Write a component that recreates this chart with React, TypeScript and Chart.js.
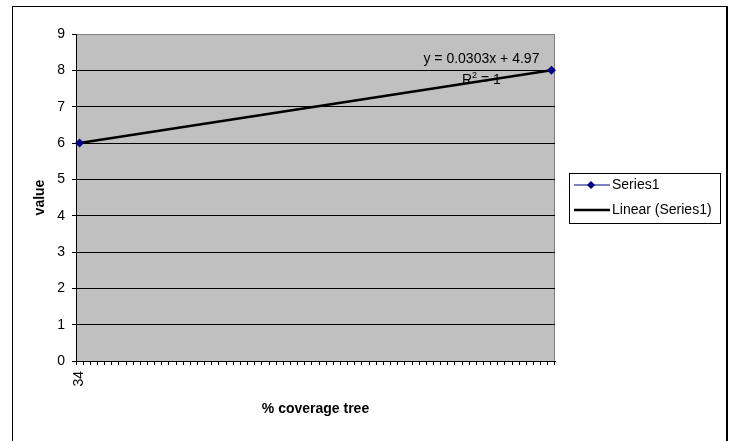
import React, { useEffect, useRef } from "react";
import { Chart, registerables } from "chart.js";

Chart.register(...registerables);

// ---- data ----
const xFirst = 34;
const xLast = 100;
const categories: string[] = Array.from({ length: xLast - xFirst + 1 }, (_, i) => String(xFirst + i));
const seriesX = [34, 100];
const seriesY = [6, 8];
const trendSlope = 0.0303;
const trendIntercept = 4.97;
const trendR2 = 1;
const yTicks = [0, 1, 2, 3, 4, 5, 6, 7, 8, 9];

const FONT = "Arial, 'Liberation Sans', sans-serif";

const seriesPoints = seriesX.map((x, i) => ({ x: String(x), y: seriesY[i] }));
const trendPoints = [seriesX[0], seriesX[seriesX.length - 1]].map((x) => ({
  x: String(x),
  y: trendSlope * x + trendIntercept,
}));

const framePlugin = {
  id: "framePlugin",
  beforeDraw(chart: any) {
    const { ctx, chartArea: a } = chart;
    ctx.save();
    ctx.fillStyle = "#ffffff";
    ctx.fillRect(0, 0, chart.width, chart.height);
    ctx.fillStyle = "#C0C0C0";
    ctx.fillRect(a.left, a.top, a.right - a.left, a.bottom - a.top);
    ctx.strokeStyle = "#808080";
    ctx.lineWidth = 1;
    ctx.beginPath();
    ctx.moveTo(Math.round(a.right) - 0.5, a.top);
    ctx.lineTo(Math.round(a.right) - 0.5, a.bottom);
    ctx.stroke();
    ctx.restore();
  },
  afterDraw(chart: any) {
    const { ctx } = chart;
    ctx.save();
    // outer chart frame
    ctx.strokeStyle = "#000";
    ctx.lineWidth = 1;
    ctx.strokeRect(12.5, 6.5, 715, 470);
    ctx.beginPath();
    ctx.moveTo(726.5, 6);
    ctx.lineTo(726.5, 441);
    ctx.stroke();

    // trendline label
    const xs = chart.scales.x;
    const ys = chart.scales.y;
    const px = xs.getPixelForValue(categories.indexOf(String(seriesX[seriesX.length - 1])));
    const py = ys.getPixelForValue(seriesY[seriesY.length - 1]);
    ctx.fillStyle = "#000";
    ctx.font = `14px ${FONT}`;
    ctx.textAlign = "center";
    ctx.textBaseline = "middle";
    ctx.fillText(`y = ${trendSlope}x + ${trendIntercept}`, px - 70, py - 11);
    // R² = 1
    const cx = px - 70;
    const cy = py + 10;
    const r = "R";
    const rest = ` = ${trendR2}`;
    ctx.font = `14px ${FONT}`;
    const wR = ctx.measureText(r).width;
    const wRest = ctx.measureText(rest).width;
    ctx.font = `9px ${FONT}`;
    const w2 = ctx.measureText("2").width;
    const total = wR + w2 + wRest;
    let sx = cx - total / 2;
    ctx.textAlign = "left";
    ctx.font = `14px ${FONT}`;
    ctx.fillText(r, sx, cy);
    sx += wR;
    ctx.font = `9px ${FONT}`;
    ctx.fillText("2", sx, cy - 5);
    sx += w2;
    ctx.font = `14px ${FONT}`;
    ctx.fillText(rest, sx, cy);

    // legend
    const lx = 569.5;
    const ly = 173.5;
    ctx.strokeStyle = "#000";
    ctx.lineWidth = 1;
    ctx.strokeRect(lx, ly, 151, 50);
    const entries = chart.data.datasets.filter((d: any) => d.legend);
    entries.forEach((d: any, i: number) => {
      const yy = 185 + i * 25;
      ctx.strokeStyle = d.borderColor;
      ctx.lineWidth = d.borderWidth;
      ctx.beginPath();
      ctx.moveTo(574, yy);
      ctx.lineTo(610, yy);
      ctx.stroke();
      if (d.legendMarker) {
        ctx.fillStyle = d.borderColor;
        ctx.beginPath();
        ctx.moveTo(591, yy - 4);
        ctx.lineTo(595, yy);
        ctx.lineTo(591, yy + 4);
        ctx.lineTo(587, yy);
        ctx.closePath();
        ctx.fill();
      }
      ctx.fillStyle = "#000";
      ctx.font = `14px ${FONT}`;
      ctx.textAlign = "left";
      ctx.textBaseline = "middle";
      ctx.fillText(d.label, 612, yy);
    });
    ctx.restore();
  },
};

export default function App() {
  const ref = useRef<HTMLCanvasElement | null>(null);
  useEffect(() => {
    if (!ref.current) return;
    const chart = new Chart(ref.current, {
      type: "line",
      data: {
        labels: categories,
        datasets: [
          {
            label: "Series1",
            data: seriesPoints,
            borderColor: "#000080",
            backgroundColor: "#000080",
            borderWidth: 1,
            pointRadius: 0,
            spanGaps: true,
            order: 2,
            clip: false,
            legend: true,
            legendMarker: true,
          } as any,
          {
            label: "Linear (Series1)",
            data: trendPoints,
            borderColor: "#000000",
            borderWidth: 2.5,
            pointRadius: 0,
            spanGaps: true,
            order: 1,
            clip: false,
            legend: true,
          } as any,
          {
            label: "Series1 markers",
            data: seriesPoints,
            showLine: false,
            borderColor: "#000080",
            backgroundColor: "#000080",
            pointStyle: "rectRot",
            pointRadius: 4.5,
            pointBorderWidth: 0,
            order: 0,
            clip: false,
          } as any,
        ],
      },
      options: {
        responsive: false,
        animation: false,
        devicePixelRatio: 1,
        layout: { padding: { left: 0, top: 34, right: 182, bottom: 23 } },
        plugins: {
          legend: { display: false },
          tooltip: { enabled: false },
        },
        scales: {
          x: {
            type: "category",
            offset: true,
            grid: {
              offset: true,
              drawOnChartArea: false,
              drawTicks: true,
              tickLength: 4,
              tickColor: "#000",
            },
            border: { color: "#000", width: 1 },
            ticks: {
              autoSkip: false,
              maxRotation: 90,
              minRotation: 90,
              padding: 6,
              color: "#000",
              font: { family: FONT, size: 14 },
              callback: (_v: any, i: number) => (i === 0 ? categories[i] : ""),
            },
            title: {
              display: true,
              text: "% coverage tree",
              color: "#000",
              font: { family: FONT, size: 14, weight: "bold" },
              padding: { top: 0, bottom: 0 },
            },
            afterFit: (s: any) => {
              s.height = 57;
            },
          },
          y: {
            min: 0,
            max: 9,
            afterBuildTicks: (s: any) => {
              s.ticks = yTicks.map((v) => ({ value: v }));
            },
            grid: {
              color: (c: any) => (c.tick && c.tick.value === 9 ? "#808080" : "#000"),
              tickColor: "#000",
              tickLength: 4,
              lineWidth: 1,
            },
            border: { color: "#000", width: 1 },
            ticks: {
              padding: 7,
              color: "#000",
              font: { family: FONT, size: 14 },
            },
            title: {
              display: true,
              text: "value",
              color: "#000",
              font: { family: FONT, size: 14, weight: "bold" },
              padding: { top: 32, bottom: 0 },
            },
            afterFit: (s: any) => {
              s.width = 76;
            },
          },
        },
      } as any,
      plugins: [framePlugin],
    });
    return () => chart.destroy();
  }, []);
  return (
    <div style={{ position: "fixed", left: 0, top: 0, width: 737, height: 441, background: "#fff" }}>
      <canvas ref={ref} width={737} height={441} style={{ display: "block" }} />
    </div>
  );
}
